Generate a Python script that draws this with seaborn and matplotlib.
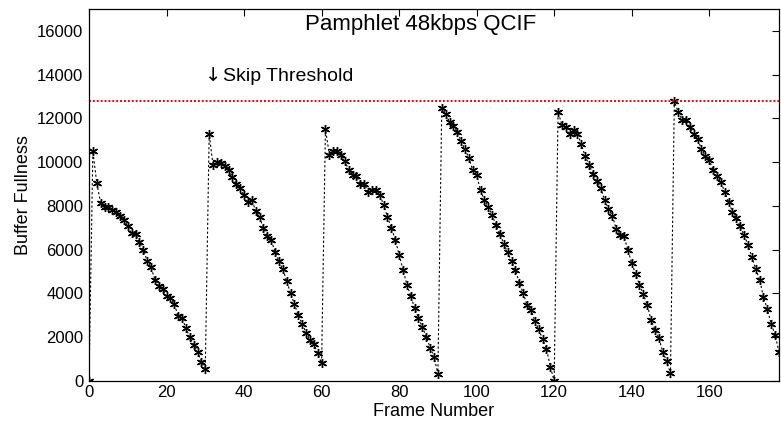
import numpy as np
import pandas as pd
import matplotlib
matplotlib.use("Agg")
import matplotlib.pyplot as plt
import seaborn as sns

# ---- data ----
buffer_fullness = [
    0, 10500, 9050, 8150, 7950, 7950, 7830, 7740, 7560, 7370, 7070, 6760, 6720, 6340, 6000,
    5500, 5200, 4630, 4350, 4200, 3890, 3790, 3530, 2950, 2890, 2410, 2015, 1650, 1340, 890, 530,
    11300, 9850, 10000, 9970, 9820, 9630, 9330, 9020, 8830, 8500, 8170, 8290, 7760, 7480, 6990,
    6640, 6430, 5910, 5470, 5130, 4560, 4015, 3500, 3010, 2600, 2210, 1880, 1680, 1270, 810,
    11500, 10350, 10500, 10500, 10350, 10050, 9660, 9435, 9360, 9020, 9020, 8640, 8750, 8750, 8520,
    8050, 7500, 6990, 6460, 5770, 5080, 4400, 3890, 3330, 2870, 2460, 2030, 1530, 1115, 320,
    12490, 12210, 11830, 11650, 11390, 10960, 10580, 10200, 9630, 9400, 8720, 8260, 7940, 7590, 7110,
    6730, 6270, 5880, 5470, 5080, 4500, 4015, 3480, 3250, 2760, 2370, 1910, 1480, 660, 0,
    12300, 11700, 11600, 11310, 11470, 11300, 10810, 10270, 9890, 9480, 9160, 8810, 8290, 7860, 7550,
    6950, 6690, 6610, 6000, 5390, 4890, 4400, 3970, 3480, 2790, 2340, 1985, 1340, 916, 350,
    12790, 12290, 11950, 11920, 11620, 11270, 11040, 10610, 10270, 10090, 9660, 9390, 9100, 8640,
    8170, 7730, 7450, 7070, 6660, 6230, 5660, 5130, 4630, 3820, 3280, 2600, 2110, 1310,
]
frame_number = list(range(len(buffer_fullness)))
skip_threshold = 12800
x_ticks = [0, 20, 40, 60, 80, 100, 120, 140, 160]
y_ticks = [0, 2000, 4000, 6000, 8000, 10000, 12000, 14000, 16000]
title_text = "Pamphlet 48kbps QCIF"
arrow_text = "\u2193"
threshold_text = "Skip Threshold"

df = pd.DataFrame({"Frame Number": frame_number, "Buffer Fullness": buffer_fullness})

sns.set_style("white")
plt.rcParams["font.family"] = ["Liberation Sans", "DejaVu Sans"]
plt.rcParams["text.color"] = "black"
plt.rcParams["axes.labelcolor"] = "black"
plt.rcParams["xtick.color"] = "black"
plt.rcParams["ytick.color"] = "black"

fig = plt.figure(figsize=(7.81, 4.30), dpi=100)
ax = fig.add_axes([89 / 781, 49 / 430, 690 / 781, 372 / 430])

sns.lineplot(data=df, x="Frame Number", y="Buffer Fullness", ax=ax,
             color="black", linewidth=0.8, linestyle=(0, (2, 2)),
             marker=(6, 2, 0), markersize=6.5, markeredgecolor="black",
             markeredgewidth=1.0)
ax.plot([0, 178], [skip_threshold, skip_threshold], color="red",
        linestyle=(0, (1, 1)), linewidth=1.4)

ax.set_xlim(0, 178)
ax.set_ylim(0, 17000)
ax.set_xticks(x_ticks)
ax.set_yticks(y_ticks)
ax.set_xticklabels([str(t) for t in x_ticks])
ax.set_yticklabels([str(t) for t in y_ticks])
ax.tick_params(axis="both", direction="in", length=5, width=0.8,
               labelsize=12, top=True, right=True, colors="black")
ax.tick_params(axis="x", pad=3)
ax.tick_params(axis="y", pad=4)
for s in ax.spines.values():
    s.set_visible(True)
    s.set_color("black")
    s.set_linewidth(0.9)

ax.set_xlabel("Frame Number", fontsize=13, labelpad=2, color="black")
ax.set_ylabel("Buffer Fullness", fontsize=13, labelpad=4, color="black")

ax.text(55.7, 16300, title_text, fontsize=16, ha="left", va="center", color="black")
ax.text(30, 13950, arrow_text, fontsize=14, ha="left", va="center",
        family=["DejaVu Sans"], color="black")
ax.text(34.6, 13900, threshold_text, fontsize=14, ha="left", va="center", color="black")

fig.savefig("out.png", dpi=100)
